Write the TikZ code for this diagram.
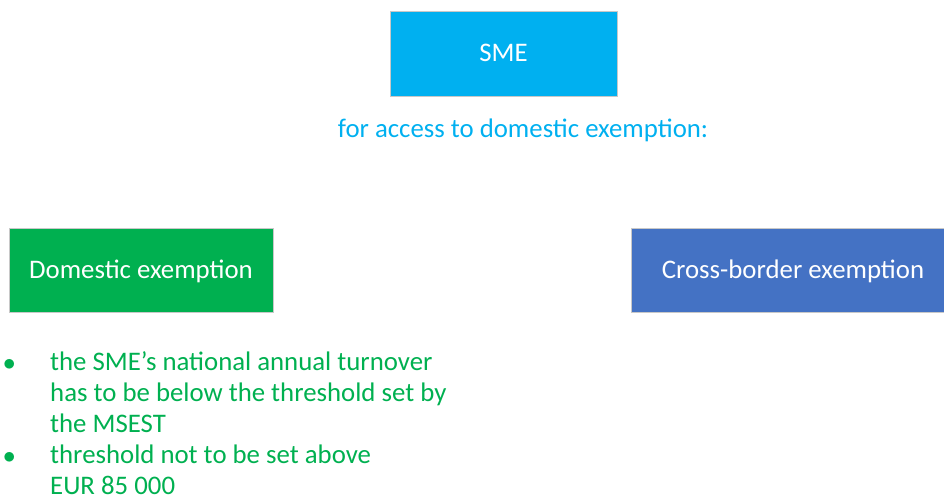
\documentclass[tikz,border=0pt]{standalone}
\usepackage{fontspec}
\setmainfont{Carlito}
\definecolor{smecyan}{HTML}{00B0F0}
\definecolor{domgreen}{HTML}{00B050}
\definecolor{cbblue}{HTML}{4472C4}
\definecolor{edgegray}{HTML}{C8C8C8}
\begin{document}
\begin{tikzpicture}[x=1pt,y=-1pt,
  box/.style={draw=edgegray,line width=0.8pt,text=white,inner sep=0pt,text height=16pt,text depth=0pt},
  lbl/.style={inner sep=0pt,anchor=base west,text depth=0pt}]
\useasboundingbox (0,0) rectangle (944,500);
\fontsize{26.8}{32}\selectfont
\node[box,fill=smecyan,minimum width=227pt,minimum height=85pt] (sme) at (503.5,53.5) {SME};
\node[inner sep=0pt,anchor=base,text=smecyan] (acc) at (523,137) {for access to domestic exemption:};
\node[box,fill=domgreen,minimum width=264pt,minimum height=84pt] (dom) at (141,270) {Domestic exemption};
\node[box,fill=cbblue,minimum width=324pt,minimum height=84pt] (cb) at (793,270) {Cross-border exemption};
\begin{scope}[text=domgreen]
\node[lbl] (b1) at (3,370) {$\bullet$};
\node[lbl] (l1) at (50,370) {the SME’s national annual turnover};
\node[lbl] (l2) at (50,401) {has to be below the threshold set by};
\node[lbl] (l3) at (50,432) {the MSEST};
\node[lbl] (b2) at (3,463) {$\bullet$};
\node[lbl] (l4) at (50,463) {threshold not to be set above};
\node[lbl] (l5) at (50,494) {EUR 85 000};
\end{scope}
\end{tikzpicture}
\end{document}
